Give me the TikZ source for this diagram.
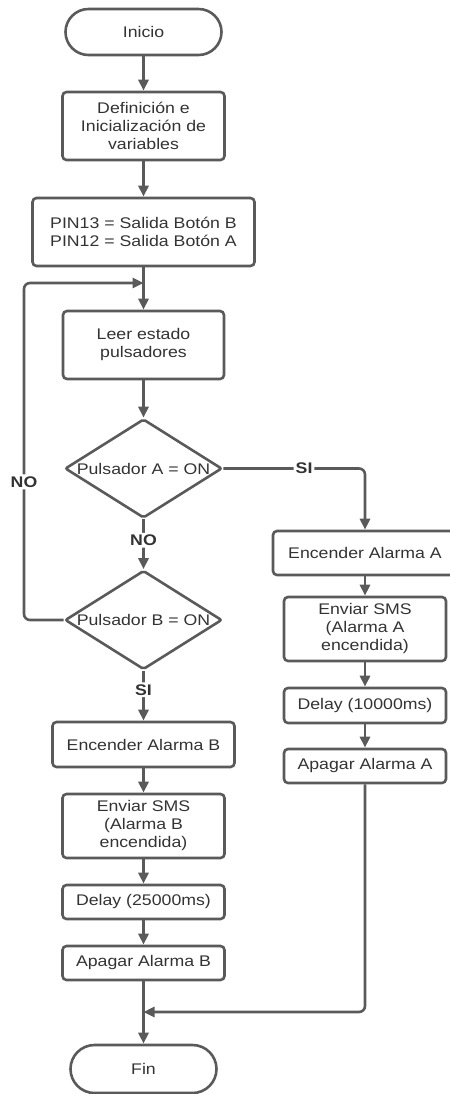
\documentclass[tikz,border=0pt]{standalone}
\usepackage{fontspec}
\setmainfont{Liberation Sans}[FakeStretch=1.15]
\usepackage{tikz}
\usetikzlibrary{arrows.meta, positioning, shapes.geometric}
\usepackage{xcolor}
\definecolor{linegray}{HTML}{5A5A5A}
\definecolor{textgray}{HTML}{333333}
\tikzset{%
	every box/.style={
		draw=linegray,
		line width=1.3pt,
		rounded corners=2pt,
		fill=white,
		text=textgray,
		align=center,
		inner sep=0pt,
		font=\fontsize{7.7}{9}\selectfont
	},
	terminal/.style={every box, rounded corners=11.5pt, minimum width=78pt, minimum height=23pt},
	process/.style={every box, minimum width=81pt, minimum height=34pt},
	decision/.style={every box, diamond, rounded corners=1pt, minimum width=78.5pt, minimum height=49.5pt},
	decision text/.style={text=textgray, inner sep=0pt, font=\fontsize{7.7}{9}\selectfont},
	flow/.style={draw=linegray, line width=1.3pt, rounded corners=3pt, -{Triangle[width=5pt,length=5.5pt]}},
	answer/.style={fill=white, text=textgray, inner sep=1pt, font=\fontsize{7.7}{9}\selectfont\bfseries},
}
\begin{document}
\begin{tikzpicture}[x=0.5pt, y=-0.5pt]
	\useasboundingbox (0,0) rectangle (450,1094);
	% main column
	\node[terminal] (inicio) at (143.5,32) {Inicio};
	\node[process] (defin) at (143.5,126) {Definición e\\Inicialización de\\variables};
	\node[process, minimum width=111pt] (pins) at (143.5,232) {PIN13 = Salida Botón B\\PIN12 = Salida Botón A};
	\node[process, minimum width=80.5pt] (leer) at (143.5,345) {Leer estado\\pulsadores};
	\node[decision, label={[decision text]center:Pulsador A = ON}] (decA) at (143.5,468.5) {};
	\node[decision, label={[decision text]center:Pulsador B = ON}] (decB) at (143.5,620) {};
	\node[process, minimum width=91pt, minimum height=22.5pt] (encB) at (143.5,744.5) {Encender Alarma B};
	\node[process, minimum height=32pt] (smsB) at (143.5,826) {Enviar SMS\\(Alarma B\\encendida)};
	\node[process, minimum height=17pt] (delB) at (143.5,902) {Delay (25000ms)};
	\node[process, minimum height=17pt] (apaB) at (143.5,963) {Apagar Alarma B};
	\node[terminal, minimum width=73pt, minimum height=24pt, rounded corners=12pt] (fin) at (143.5,1069) {Fin};
	% right column
	\node[process, minimum width=92pt, minimum height=22pt] (encA) at (365,553) {Encender Alarma A};
	\node[process, minimum height=32pt] (smsA) at (365,629) {Enviar SMS\\(Alarma A\\encendida)};
	\node[process, minimum height=17.5pt] (delA) at (365,705.5) {Delay (10000ms)};
	\node[process, minimum height=17pt] (apaA) at (365,766) {Apagar Alarma A};
	% junctions
	\coordinate (loopL) at (24,283);
	\coordinate (loopJ) at (143.5,283);
	\coordinate (merge) at (143.5,1012);
	% connectors
	\draw[flow] (inicio) -- (defin);
	\draw[flow] (defin) -- (pins);
	\draw[flow] (pins) -- (leer);
	\draw[flow] (leer) -- (decA);
	\draw[flow] (decA) -- node[answer, pos=0.42]{NO} (decB);
	\draw[flow] (decB) -- node[answer, pos=0.38]{SI} (encB);
	\draw[flow] (encB) -- (smsB);
	\draw[flow] (smsB) -- (delB);
	\draw[flow] (delB) -- (apaB);
	\draw[flow] (apaB) -- (fin);
	\draw[flow] (decB.west) -| node[answer, pos=0.705]{NO} (loopL) -- (loopJ);
	\draw[flow] (decA.east) -- node[answer, pos=0.57]{SI} (decA.east -| encA.north) -- (encA.north);
	\draw[flow] (encA) -- (smsA);
	\draw[flow] (smsA) -- (delA);
	\draw[flow] (delA) -- (apaA);
	\draw[flow] (apaA.south) |- (merge);
\end{tikzpicture}
\end{document}
